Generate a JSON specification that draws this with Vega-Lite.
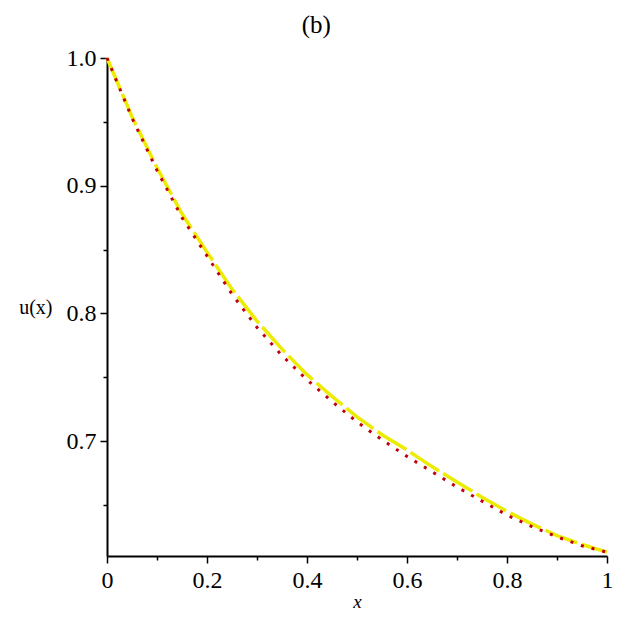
{
  "$schema": "https://vega.github.io/schema/vega-lite/v6.json",
  "width": 500,
  "height": 498,
  "autosize": "none",
  "padding": {"left": 107, "top": 58, "right": 14, "bottom": 65},
  "background": "white",
  "title": {
    "text": "(b)",
    "font": "Liberation Serif",
    "fontSize": 25,
    "fontWeight": "normal",
    "color": "black",
    "anchor": "middle",
    "frame": "bounds",
    "offset": 8
  },
  "data": {
    "values": [
      {"x": 0.0, "u": 1.000, "series": "yellow"},
      {"x": 0.05, "u": 0.954, "series": "yellow"},
      {"x": 0.1, "u": 0.914, "series": "yellow"},
      {"x": 0.15, "u": 0.878, "series": "yellow"},
      {"x": 0.2, "u": 0.848, "series": "yellow"},
      {"x": 0.25, "u": 0.819, "series": "yellow"},
      {"x": 0.3, "u": 0.794, "series": "yellow"},
      {"x": 0.35, "u": 0.772, "series": "yellow"},
      {"x": 0.4, "u": 0.752, "series": "yellow"},
      {"x": 0.45, "u": 0.735, "series": "yellow"},
      {"x": 0.5, "u": 0.719, "series": "yellow"},
      {"x": 0.55, "u": 0.705, "series": "yellow"},
      {"x": 0.6, "u": 0.693, "series": "yellow"},
      {"x": 0.65, "u": 0.680, "series": "yellow"},
      {"x": 0.7, "u": 0.668, "series": "yellow"},
      {"x": 0.75, "u": 0.656, "series": "yellow"},
      {"x": 0.8, "u": 0.645, "series": "yellow"},
      {"x": 0.85, "u": 0.635, "series": "yellow"},
      {"x": 0.9, "u": 0.626, "series": "yellow"},
      {"x": 0.95, "u": 0.619, "series": "yellow"},
      {"x": 1.0, "u": 0.613, "series": "yellow"},
      {"x": 0.0, "u": 1.000, "series": "red"},
      {"x": 0.05, "u": 0.953, "series": "red"},
      {"x": 0.1, "u": 0.912, "series": "red"},
      {"x": 0.15, "u": 0.875, "series": "red"},
      {"x": 0.2, "u": 0.845, "series": "red"},
      {"x": 0.25, "u": 0.815, "series": "red"},
      {"x": 0.3, "u": 0.789, "series": "red"},
      {"x": 0.35, "u": 0.767, "series": "red"},
      {"x": 0.4, "u": 0.748, "series": "red"},
      {"x": 0.45, "u": 0.731, "series": "red"},
      {"x": 0.5, "u": 0.715, "series": "red"},
      {"x": 0.55, "u": 0.701, "series": "red"},
      {"x": 0.6, "u": 0.688, "series": "red"},
      {"x": 0.65, "u": 0.676, "series": "red"},
      {"x": 0.7, "u": 0.664, "series": "red"},
      {"x": 0.75, "u": 0.653, "series": "red"},
      {"x": 0.8, "u": 0.642, "series": "red"},
      {"x": 0.85, "u": 0.633, "series": "red"},
      {"x": 0.9, "u": 0.625, "series": "red"},
      {"x": 0.95, "u": 0.618, "series": "red"},
      {"x": 1.0, "u": 0.613, "series": "red"}
    ]
  },
  "encoding": {
    "x": {
      "field": "x",
      "type": "quantitative",
      "scale": {"domain": [0, 1], "nice": false, "zero": false},
      "axis": {
        "title": "x",
        "titleFontStyle": "italic",
        "titleFont": "Liberation Serif",
        "titleFontSize": 19,
        "titleFontWeight": "normal",
        "titleBaseline": "alphabetic",
        "titleY": 51,
        "values": [0, 0.1, 0.2, 0.3, 0.4, 0.5, 0.6, 0.7, 0.8, 0.9, 1],
        "labelExpr": "round(datum.value * 10) % 2 == 0 ? format(datum.value, '~g') : ''",
        "tickSize": {"condition": {"test": "round(datum.value * 10) % 2 == 0", "value": 7}, "value": 4},
        "labelPadding": 5
      }
    },
    "y": {
      "field": "u",
      "type": "quantitative",
      "scale": {"domain": [0.61, 1.0], "nice": false, "zero": false},
      "axis": {
        "title": "u(x)",
        "titleAngle": 0,
        "titleFont": "Liberation Serif",
        "titleFontSize": 20,
        "titleFontWeight": "normal",
        "titleAlign": "right",
        "titleBaseline": "middle",
        "titleX": -55,
        "titleY": 249,
        "values": [0.65, 0.7, 0.75, 0.8, 0.85, 0.9, 0.95, 1.0],
        "labelExpr": "round(datum.value * 100) % 10 == 0 ? format(datum.value, '.1f') : ''",
        "tickSize": {"condition": {"test": "round(datum.value * 100) % 10 == 0", "value": 7}, "value": 4},
        "labelPadding": 4
      }
    }
  },
  "layer": [
    {
      "transform": [{"filter": "datum.series == 'yellow'"}],
      "mark": {"type": "line", "color": "#ecec00", "strokeWidth": 3.5, "strokeDash": [34, 5]}
    },
    {
      "transform": [{"filter": "datum.series == 'red'"}],
      "mark": {"type": "line", "color": "#c00010", "strokeWidth": 3, "strokeDash": [3, 8]}
    }
  ],
  "config": {
    "view": {"stroke": null},
    "axis": {
      "grid": false,
      "domainColor": "black",
      "domainWidth": 2,
      "tickColor": "black",
      "tickWidth": 1.5,
      "labelFont": "Liberation Serif",
      "labelFontSize": 24,
      "labelColor": "black",
      "titleColor": "black",
      "labelFlush": false,
      "labelOverlap": false
    }
  }
}
